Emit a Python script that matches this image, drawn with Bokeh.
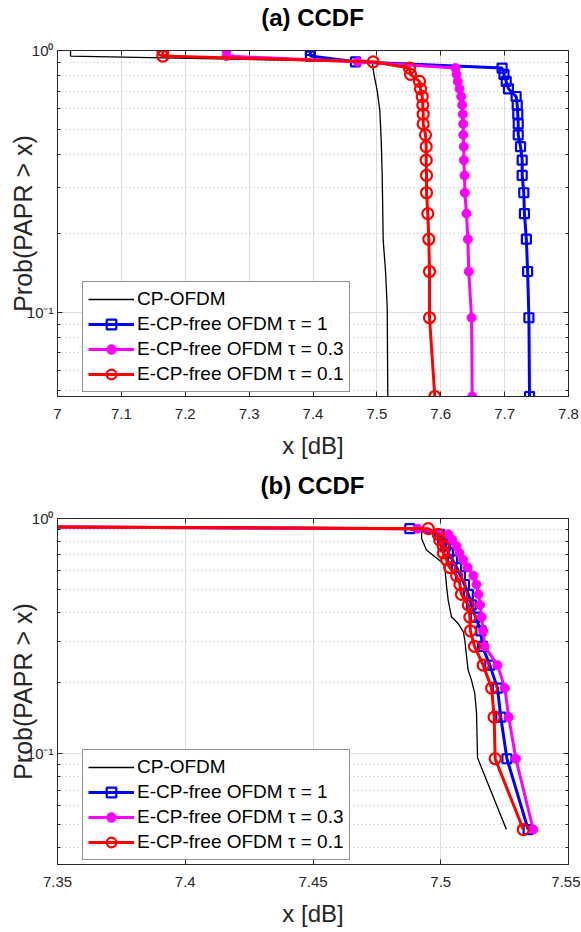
from bokeh.plotting import figure
from bokeh.models import (Range1d, FixedTicker, CustomJSTickFormatter, LinearAxis, LogAxis,
                          Legend, LegendItem, Div)
from bokeh.layouts import column
from bokeh.embed import file_html
from bokeh.resources import INLINE

# ---------------- data ----------------
prob = [1.0, 0.952, 0.905, 0.857, 0.810, 0.762, 0.714, 0.667, 0.619, 0.571, 0.524,
        0.476, 0.429, 0.381, 0.333, 0.286, 0.238, 0.190, 0.143, 0.0952, 0.0476]

# (a) panel
a_xticks = [7.0, 7.1, 7.2, 7.3, 7.4, 7.5, 7.6, 7.7, 7.8]
a_cp_x = [7.0204, 7.0204, 7.4927, 7.4952, 7.5005, 7.5046, 7.5068, 7.5083, 7.5099, 7.5135, 7.5162, 7.5171]
a_cp_y = [1.0, 0.952, 0.905, 0.815, 0.703, 0.590, 0.453, 0.338, 0.188, 0.144, 0.1045, 0.0476]
a_tau1_x = [7.396, 7.396, 7.4665, 7.696, 7.699, 7.7025, 7.706, 7.718, 7.7197, 7.7206, 7.7213,
            7.7213, 7.7249, 7.7275, 7.7275, 7.730, 7.731, 7.734, 7.736, 7.738, 7.739]
a_tau03_x = [7.2646, 7.2646, 7.47, 7.623, 7.6247, 7.6267, 7.6294, 7.632, 7.6336, 7.6345, 7.6352,
             7.6352, 7.6361, 7.6361, 7.6372, 7.6377, 7.6403, 7.6424, 7.6439, 7.6482, 7.6493]
a_tau01_x = [7.1649, 7.1649, 7.4942, 7.5511, 7.5527, 7.5667, 7.5683, 7.571, 7.5719, 7.5725, 7.5725,
             7.5761, 7.5772, 7.5772, 7.5777, 7.5777, 7.5797, 7.5813, 7.5824, 7.5824, 7.5907]

# (b) panel
b_xticks = [7.35, 7.4, 7.45, 7.5, 7.55]
b_cp_x = [7.00, 7.08, 7.4925, 7.4925, 7.4944, 7.4977, 7.5003, 7.5016, 7.5023, 7.5029, 7.5042,
          7.5068, 7.5088, 7.5094, 7.5101, 7.5107, 7.512, 7.5133, 7.514, 7.5144, 7.5257]
b_cp_y = [1.0, 0.952, 0.907, 0.822, 0.734, 0.687, 0.654, 0.623, 0.512, 0.450, 0.382,
          0.358, 0.330, 0.305, 0.259, 0.227, 0.206, 0.181, 0.149, 0.096, 0.0476]
b_tau1_x = [7.00, 7.08, 7.4879, 7.4995, 7.5007, 7.5019, 7.5030, 7.5046, 7.5062, 7.5077, 7.5093,
            7.5108, 7.5120, 7.5136, 7.5157, 7.5163, 7.5192, 7.5222, 7.5235, 7.5259, 7.5342]
b_tau03_x = [7.00, 7.08, 7.4909, 7.5030, 7.5046, 7.5062, 7.5073, 7.5088, 7.5105, 7.5128, 7.5140,
             7.5148, 7.5154, 7.5160, 7.5166, 7.5172, 7.5222, 7.5251, 7.5266, 7.5294, 7.5362]
b_tau01_x = [7.00, 7.08, 7.4951, 7.4990, 7.4996, 7.5010, 7.5010, 7.5023, 7.5035, 7.5062, 7.5075,
             7.5081, 7.5108, 7.5114, 7.5116, 7.5132, 7.5166, 7.5199, 7.5209, 7.5213, 7.5323]

y_major = [0.1, 1.0]
y_minor = [0.03, 0.04, 0.05, 0.06, 0.07, 0.08, 0.09, 0.2, 0.3, 0.4, 0.5, 0.6, 0.7, 0.8, 0.9]

labels = ["CP-OFDM", "E-CP-free OFDM \u03c4 = 1", "E-CP-free OFDM \u03c4 = 0.3",
          "E-CP-free OFDM \u03c4 = 0.1"]

FONT = "Liberation Sans"
AX = "#262626"
FW, FH = 511, 346
LEFT, RIGHT = 57, 12

xfmt_code = "return parseFloat(tick.toFixed(4)).toString();"
yfmt_code = """
const e = Math.round(Math.log10(tick));
const sup = {'0': '\u2070', '-1': '\u207b\u00b9', '-2': '\u207b\u00b2'};
return '10' + (sup[String(e)] || String(e));
"""


def style_axis(ax, show_labels):
    ax.axis_line_color = AX
    ax.major_tick_in = 5
    ax.major_tick_out = 0
    ax.minor_tick_in = 3
    ax.minor_tick_out = 0
    ax.major_tick_line_color = AX
    ax.minor_tick_line_color = AX
    ax.major_label_text_font = FONT
    if show_labels:
        ax.major_label_text_color = AX
        ax.major_label_text_font_size = "15px"
    else:
        ax.major_label_text_color = None
        ax.major_label_text_font_size = "1px"
        ax.major_label_standoff = 0


def make_title(text):
    html = ("<div style=\"width:%dpx;margin-left:%dpx;text-align:center;"
            "font-family:'Liberation Sans';font-weight:bold;font-size:24px;"
            "line-height:36px;color:black;\">%s</div>") % (FW, LEFT, text)
    return Div(text=html, width=LEFT + FW + RIGHT, height=36, margin=0)


def make_panel(xr, ymin, xticks, cp_x, cp_y, t1_x, t03_x, t01_x, top_b, bottom, leg_loc):
    p = figure(x_range=Range1d(*xr), y_range=Range1d(ymin, 1.0), y_axis_type="log",
               frame_width=FW, frame_height=FH,
               min_border_left=LEFT, min_border_right=RIGHT, min_border_top=top_b,
               min_border_bottom=bottom,
               output_backend="svg", toolbar_location=None,
               outline_line_color=AX, outline_line_width=1)

    top = LinearAxis()
    right = LogAxis()
    p.add_layout(top, "above")
    p.add_layout(right, "right")

    for ax in p.xaxis:
        ax.ticker = FixedTicker(ticks=xticks)
        ax.formatter = CustomJSTickFormatter(code=xfmt_code)
    for ax in p.yaxis:
        ax.ticker = FixedTicker(ticks=y_major, minor_ticks=y_minor)
        ax.formatter = CustomJSTickFormatter(code=yfmt_code)

    bx = p.below[0]
    ly = p.left[0]
    style_axis(bx, True)
    style_axis(ly, True)
    style_axis(top, False)
    style_axis(right, False)
    top.minor_tick_in = 0
    bx.minor_tick_in = 0

    bx.major_label_standoff = 12
    bx.axis_label = "x [dB]"
    bx.axis_label_text_font = FONT
    bx.axis_label_text_font_size = "24px"
    bx.axis_label_text_font_style = "normal"
    bx.axis_label_text_color = AX
    bx.axis_label_standoff = 10

    ly.major_label_standoff = 4
    ly.axis_label = "Prob(PAPR > x)"
    ly.axis_label_text_font = FONT
    ly.axis_label_text_font_size = "25px"
    ly.axis_label_text_font_style = "normal"
    ly.axis_label_text_color = AX
    ly.axis_label_standoff = -13

    p.xgrid.grid_line_color = "#dedede"
    p.ygrid.grid_line_color = "#dedede"
    p.ygrid.minor_grid_line_color = "#bdbdbd"
    p.ygrid.minor_grid_line_dash = "1 3"

    r_cp = p.line(cp_x, cp_y, line_color="black", line_width=1.3)

    l1 = p.line(t1_x, prob, line_color="#0000ff", line_width=3)
    s1 = p.scatter(t1_x, prob, marker="square", size=9, line_color="#0000ff",
                   fill_color=None, line_width=2.2)
    l2 = p.line(t03_x, prob, line_color="#ff00ff", line_width=3)
    s2 = p.scatter(t03_x, prob, marker="circle", size=9, line_color="#ff00ff",
                   fill_color="#ff00ff", line_width=1)
    l3 = p.line(t01_x, prob, line_color="#ff0000", line_width=3)
    s3 = p.scatter(t01_x, prob, marker="circle", size=11, line_color="#ff0000",
                   fill_color=None, line_width=2.2)

    legend = Legend(items=[LegendItem(label=labels[0], renderers=[r_cp]),
                           LegendItem(label=labels[1], renderers=[l1, s1]),
                           LegendItem(label=labels[2], renderers=[l2, s2]),
                           LegendItem(label=labels[3], renderers=[l3, s3])],
                    location=leg_loc)
    legend.label_text_font = FONT
    legend.label_text_font_size = "19px"
    legend.label_text_color = "black"
    legend.glyph_width = 46
    legend.glyph_height = 24
    legend.label_height = 24
    legend.label_standoff = 3
    legend.spacing = 1
    legend.padding = 5
    legend.margin = 0
    legend.border_line_color = AX
    legend.border_line_width = 1
    legend.background_fill_color = "white"
    legend.background_fill_alpha = 1
    p.add_layout(legend, "center")
    return p


ta = make_title("(a) CCDF")
pa = make_panel((7.0, 7.8), 0.0476, a_xticks, a_cp_x, a_cp_y,
                a_tau1_x, a_tau03_x, a_tau01_x, 14, 72, (25, 4))
tb = make_title("(b) CCDF")
pb = make_panel((7.35, 7.55), 0.0338, b_xticks, b_cp_x, b_cp_y,
                b_tau1_x, b_tau03_x, b_tau01_x, 14, 60, (25, 4))

layout = column(ta, pa, tb, pb, spacing=0)
open("out.html", "w").write(file_html(layout, INLINE))
